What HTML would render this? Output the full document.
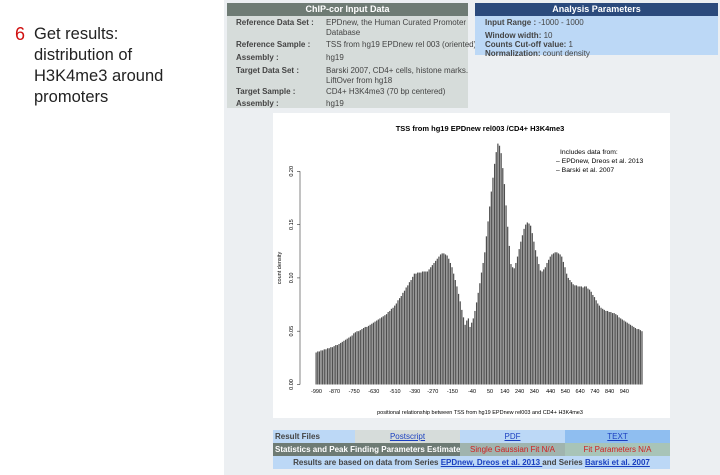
<!DOCTYPE html>
<html><head><meta charset="utf-8"><style>
*{margin:0;padding:0;box-sizing:border-box}
body{width:720px;height:475px;background:#fff;font-family:"Liberation Sans",sans-serif;position:relative;overflow:hidden}
.abs{position:absolute}
#side{left:34px;top:24px;font-size:16.5px;line-height:21px;color:#222}
#six{left:15px;top:24px;font-size:18px;color:#d01010;line-height:21px}
#page{left:224px;top:0;width:496px;height:475px;background:#eceff2}
.lbl{font-size:8px;font-weight:bold;color:#444;white-space:nowrap}
.val{font-size:8px;color:#444;white-space:nowrap}
.cell{position:absolute;font-size:8px;text-align:center;line-height:13px;height:13px;white-space:nowrap}
</style></head><body>
<div class="abs" id="six">6</div>
<div class="abs" id="side">Get results:<br>distribution of<br>H3K4me3 around<br>promoters</div>
<div class="abs" id="page"></div>
<div class="abs" style="left:227px;top:3px;width:241px;height:105px;background:#d6dcda">
 <div style="height:13px;background:#6e7b74;color:#fff;font-size:9px;font-weight:bold;text-align:center;line-height:13px">ChIP-cor Input Data</div>
 <div class="abs lbl" style="left:9px;top:15px">Reference Data Set :</div><div class="abs val" style="left:99px;top:15px;line-height:10px">EPDnew, the Human Curated Promoter<br>Database</div>
 <div class="abs lbl" style="left:9px;top:37px">Reference Sample :</div><div class="abs val" style="left:99px;top:37px">TSS from hg19 EPDnew rel 003 (oriented)</div>
 <div class="abs lbl" style="left:9px;top:50px">Assembly :</div><div class="abs val" style="left:99px;top:50px">hg19</div>
 <div class="abs lbl" style="left:9px;top:63px">Target Data Set :</div><div class="abs val" style="left:99px;top:63px;line-height:10px">Barski 2007, CD4+ cells, histone marks.<br>LiftOver from hg18</div>
 <div class="abs lbl" style="left:9px;top:84px">Target Sample :</div><div class="abs val" style="left:99px;top:84px">CD4+ H3K4me3 (70 bp centered)</div>
 <div class="abs lbl" style="left:9px;top:96px">Assembly :</div><div class="abs val" style="left:99px;top:96px">hg19</div>
</div>
<div class="abs" style="left:475px;top:3px;width:243px;height:52px;background:#bcd8f6">
 <div style="height:13px;background:#2b4a7c;color:#fff;font-size:9px;font-weight:bold;text-align:center;line-height:13px">Analysis Parameters</div>
 <div class="abs val" style="left:10px;top:15px"><b>Input Range :</b> -1000 - 1000</div>
 <div class="abs val" style="left:10px;top:28px;line-height:9px"><b>Window width:</b> 10<br><b>Counts Cut-off value:</b> 1<br><b>Normalization:</b> count density</div>
</div>
<svg class="abs" style="left:0;top:0" width="720" height="475">
<rect x="273" y="113" width="397" height="305" fill="#fff"/>
<g id="bars"></g><g id="axes"></g>
<text x="480" y="131" font-size="7.5" font-weight="bold" text-anchor="middle">TSS from hg19 EPDnew rel003 /CD4+ H3K4me3</text>
<text x="480" y="414" font-size="5.5" text-anchor="middle">positional relationship between TSS from hg19 EPDnew rel003  and CD4+ H3K4me3</text>
<text transform="translate(281,268) rotate(-90)" font-size="5.5" text-anchor="middle">count density</text>
<g font-size="6.8">
<text x="560" y="154">Includes data from:</text>
<text x="556" y="163">– EPDnew, Dreos et al. 2013</text>
<text x="556" y="172">– Barski et al. 2007</text></g>
</svg>
<div class="abs" style="left:273px;top:430px;width:397px;height:39px;">
 <div class="cell" style="left:0;top:0;width:82px;background:#bcd8f6;text-align:left;padding-left:2px;font-weight:bold;color:#444">Result Files</div>
 <div class="cell" style="left:82px;top:0;width:105px;background:#d6dcda"><u style="color:#1a3fc0">Postscript</u></div>
 <div class="cell" style="left:187px;top:0;width:105px;background:#bcd8f6"><u style="color:#1a3fc0">PDF</u></div>
 <div class="cell" style="left:292px;top:0;width:105px;background:#8fbef0"><u style="color:#1a3fc0">TEXT</u></div>
 <div class="cell" style="left:0;top:13px;width:187px;background:#6e7b74;color:#fff;font-weight:bold;text-align:left;padding-left:2px">Statistics and Peak Finding Parameters Estimate</div>
 <div class="cell" style="left:187px;top:13px;width:105px;background:#a0b4ae;color:#d02020">Single Gaussian Fit N/A</div>
 <div class="cell" style="left:292px;top:13px;width:105px;background:#a8c4b8;color:#d02020">Fit Parameters N/A</div>
 <div class="cell" style="left:0;top:26px;width:397px;background:#bcd8f6;color:#444;font-weight:bold">Results are based on data from Series <u style="color:#1a3fc0">EPDnew, Dreos et al. 2013 </u>and Series <u style="color:#1a3fc0">Barski et al. 2007</u></div>
</div>
<script>
const values=[.030,.031,.031,.032,.032,.033,.033,.034,.034,.035,.035,.036,
.037,.037,.038,.039,.040,.041,.042,.043,.044,.045,.046,.048,
.049,.050,.050,.051,.052,.053,.054,.054,.055,.056,.057,.058,.059,
.060,.061,.062,.063,.064,.065,.066,
.068,.069,.071,.072,.074,.076,.079,
.081,.083,.086,.088,.091,.093,.096,.098,.101,.104,
.104,.105,.105,.105,.106,.106,.106,.106,
.108,.110,.112,.114,.116,.118,.120,.122,.123,
.123,.122,.121,.118,.114,.110,
.104,.098,.092,.085,.078,.070,.063,
.056,.060,.062,.054,.058,.062,
.069,.077,.086,.095,.105,.114,.124,.139,
.153,.167,.181,.194,.207,.218,.226,
.224,.217,.203,.188,.168,.148,.130,.113,.110,.109,
.114,.120,.127,.134,.140,.146,.150,.152,.151,.149,
.142,.134,.126,.120,.113,.107,.106,.108,.110,
.114,.117,.120,.122,.123,.124,.124,.123,.122,.120,
.115,.110,.104,.100,.098,.096,.094,.093,.093,.092,
.092,.092,.091,.092,.092,.090,.089,.087,.084,.082,
.079,.076,.074,.072,.071,.070,.069,.069,.068,.068,
.067,.067,.066,.065,.063,.062,.061,.060,.059,.058,
.057,.056,.055,.054,.053,.052,.052,.051,.050];
const xTickLabels=["-990","-870","-750","-630","-510","-390","-270","-150","-40","50","140","240","340","440","540","640","740","840","940"];
const xTickBars=[0,11,23,35,48,60,71,83,95,106,115,124,133,143,152,161,170,179,188];
const yTicks=[0,0.05,0.10,0.15,0.20];
const yTickLabels=["0.00","0.05","0.10","0.15","0.20"];
const NS="http://www.w3.org/2000/svg";
const x0=315.5,step=327.5/values.length,yb=384.5,ys=1066;
const xS=i=>x0+i*step, yS=v=>yb-v*ys;
const bars=document.getElementById('bars'),axes=document.getElementById('axes');
function mk(tag,at,par){const e=document.createElementNS(NS,tag);for(const k in at)e.setAttribute(k,at[k]);par.appendChild(e);return e;}
values.forEach((v,i)=>{
 const r=mk('rect',{x:xS(i),y:yS(v),width:step*0.75,height:v*ys,fill:'#4f4f4f'},bars);
 
 
});
mk('line',{x1:300,x2:300,y1:yS(0),y2:yS(0.2),stroke:'#333','stroke-width':0.6},axes);
yTicks.forEach((t,k)=>{
 mk('line',{x1:297,x2:300,y1:yS(t),y2:yS(t),stroke:'#333','stroke-width':0.6},axes);
 const tx=mk('text',{transform:`translate(293,${yS(t)}) rotate(-90)`,'font-size':5.5,'text-anchor':'middle'},axes);
 tx.textContent=yTickLabels[k];
 
 
});
xTickLabels.forEach((l,k)=>{
 const tx=mk('text',{x:xS(xTickBars[k])+1,y:393,'font-size':5.5,'text-anchor':'middle'},axes);
 tx.textContent=l;
 
 
});
</script>
</body></html>
